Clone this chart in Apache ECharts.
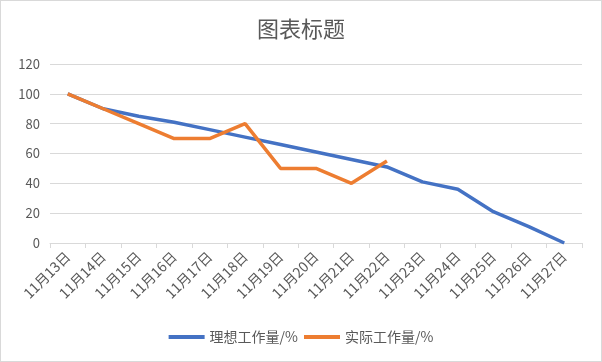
<!DOCTYPE html>
<html>
<head>
<meta charset="utf-8">
<script src="https://cdn.jsdelivr.net/npm/echarts@6/dist/echarts.min.js"></script>
<style>
html,body{margin:0;padding:0;background:#fff;}
#c{width:600px;height:360px;border:1px solid #d9d9d9;}
</style>
</head>
<body>
<div id="c"></div>
<script>
const categories = ['11月13日','11月14日','11月15日','11月16日','11月17日','11月18日','11月19日','11月20日','11月21日','11月22日','11月23日','11月24日','11月25日','11月26日','11月27日'];
const idealName = '理想工作量/%';
const actualName = '实际工作量/%';
const idealValues = [100, 90, 85, 81, 76, 71, 66, 61, 56, 51, 41, 36, 21, 11, 0];
const actualValues = [100, 90, 80, 70, 70, 80, 50, 50, 40, 55];
const titleText = '图表标题';

const font = '"Noto Sans CJK SC", "Microsoft YaHei", sans-serif';
const chart = echarts.init(document.getElementById('c'));
chart.setOption({
  animation: false,
  textStyle: { fontFamily: font },
  title: {
    text: titleText, left: 'center', top: 12,
    textStyle: { fontSize: 22, fontWeight: 'normal', color: '#595959', fontFamily: font }
  },
  legend: {
    bottom: 12, left: 'center', itemWidth: 36, itemHeight: 4, itemGap: 6,
    icon: 'rect',
    textStyle: { fontSize: 14, color: '#595959', fontFamily: font },
    data: [idealName, actualName]
  },
  grid: { left: 49, right: 19, top: 63, bottom: 118 },
  xAxis: {
    type: 'category', data: categories, boundaryGap: true,
    axisLine: { lineStyle: { color: '#d9d9d9' } },
    axisTick: { show: true, length: 5, lineStyle: { color: '#d9d9d9' } },
    axisLabel: { rotate: 45, color: '#595959', fontSize: 14, interval: 0, margin: 11, fontFamily: font }
  },
  yAxis: {
    type: 'value', min: 0, max: 120, interval: 20,
    axisLine: { show: false }, axisTick: { show: false },
    splitLine: { lineStyle: { color: '#d9d9d9' } },
    axisLabel: { color: '#595959', fontSize: 13, margin: 10, fontFamily: font }
  },
  series: [
    { name: idealName, type: 'line', data: idealValues, showSymbol: false, symbol: 'none',
      lineStyle: { color: '#4472C4', width: 3.5 }, itemStyle: { color: '#4472C4' } },
    { name: actualName, type: 'line', data: actualValues, showSymbol: false, symbol: 'none',
      lineStyle: { color: '#ED7D31', width: 3.5 }, itemStyle: { color: '#ED7D31' } }
  ]
});
</script>
</body>
</html>
